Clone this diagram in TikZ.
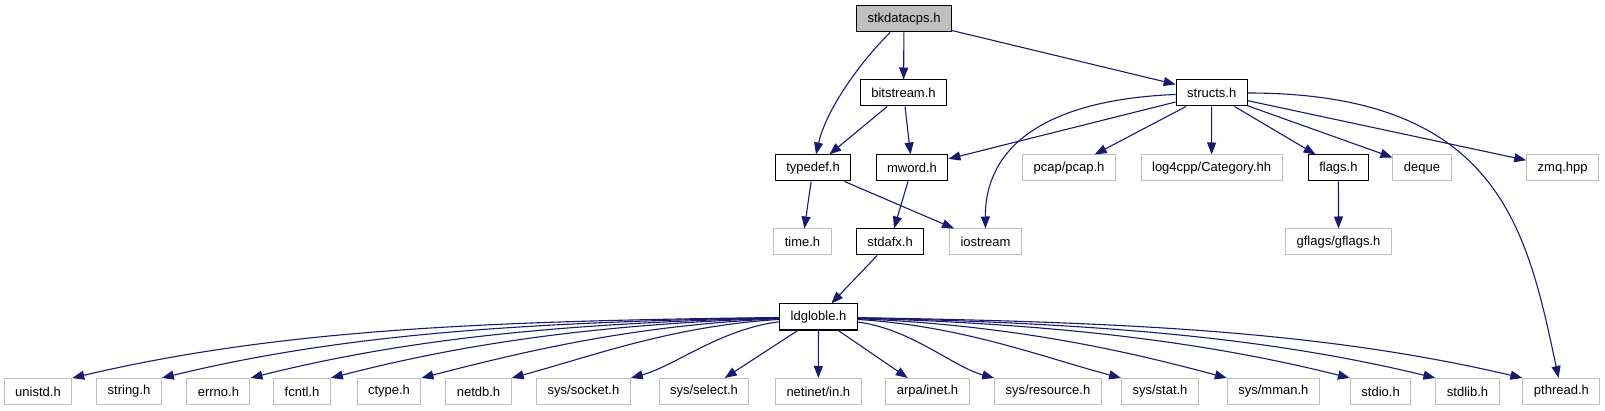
\documentclass[tikz,border=0pt]{standalone}
\usepackage{fontspec}
\setmainfont{Liberation Sans}
\usetikzlibrary{arrows.meta}
\definecolor{elkek}{HTML}{191970}
\definecolor{kszurke}{HTML}{BFBFBF}
\tikzset{
  fejlec/.style={draw=black,line width=1pt,fill=white,minimum height=26pt,inner xsep=11pt,inner ysep=0pt,
                 font=\fontsize{13}{15}\selectfont},
  rendszer/.style={fejlec,draw=kszurke},
  gyoker/.style={fejlec,fill=kszurke},
  fugg/.style={draw=elkek,line width=1.1pt,-{Triangle[length=12pt,width=9pt]}},
}
\begin{document}
\begin{tikzpicture}[x=1pt,y=-1pt]
  \useasboundingbox (0,0) rectangle (1605,411);
  % felso szintek
  \node[gyoker] (stk) at (904,19) {stkdatacps.h};
  \node[fejlec] (bit) at (903.5,93) {bitstream.h};
  \node[fejlec] (str) at (1211.7,93) {structs.h};
  \node[fejlec] (typ) at (813,168) {typedef.h};
  \node[fejlec] (mwd) at (912,168) {mword.h};
  \node[rendszer] (pcap) at (1069,168) {pcap/pcap.h};
  \node[rendszer] (log) at (1211.6,168) {log4cpp/Category.hh};
  \node[fejlec] (flg) at (1338.4,168) {flags.h};
  \node[rendszer] (deq) at (1422,168) {deque};
  \node[rendszer] (zmq) at (1562.6,168) {zmq.hpp};
  \node[rendszer] (tim) at (802.5,242) {time.h};
  \node[fejlec] (afx) at (890,242) {stdafx.h};
  \node[rendszer] (ios) at (985.5,242) {iostream};
  \node[rendszer] (gfl) at (1338.5,242) {gflags/gflags.h};
  \node[fejlec] (ldg) at (818.5,317) {ldgloble.h};
  % also sor
  \node[rendszer] (uni) at (38,391.5) {unistd.h};
  \node[rendszer] (sng) at (129,391.5) {string.h};
  \node[rendszer] (err) at (218.4,391.5) {errno.h};
  \node[rendszer] (fcn) at (302,391.5) {fcntl.h};
  \node[rendszer] (cty) at (389,391.5) {ctype.h};
  \node[rendszer] (ndb) at (478.5,391.5) {netdb.h};
  \node[rendszer] (soc) at (583.5,391.5) {sys/socket.h};
  \node[rendszer] (sel) at (704,391.5) {sys/select.h};
  \node[rendszer] (nin) at (818.3,391.5) {netinet/in.h};
  \node[rendszer] (arp) at (927.5,391.5) {arpa/inet.h};
  \node[rendszer] (res) at (1048,391.5) {sys/resource.h};
  \node[rendszer] (sta) at (1160,391.5) {sys/stat.h};
  \node[rendszer] (mma) at (1273.4,391.5) {sys/mman.h};
  \node[rendszer] (sio) at (1380.6,391.5) {stdio.h};
  \node[rendszer] (slb) at (1467.5,391.5) {stdlib.h};
  \node[rendszer] (pth) at (1561.4,391.5) {pthread.h};
  % fuggosegek
  \draw[fugg] (stk) .. controls (860,62) and (826,110) .. (typ);
  \draw[fugg] (stk) -- (bit); \draw[fugg] (stk) -- (str);
  \draw[fugg] (bit) -- (typ); \draw[fugg] (bit) -- (mwd);
  \draw[fugg] (str) -- (mwd);
  \draw[fugg] (str) .. controls (1040,100) and (985,150) .. (ios);
  \draw[fugg] (str) -- (pcap); \draw[fugg] (str) -- (log); \draw[fugg] (str) -- (flg);
  \draw[fugg] (str) -- (deq); \draw[fugg] (str) -- (zmq);
  \draw[fugg] (str) .. controls (1499,93) and (1527,229) .. (pth);
  \draw[fugg] (typ) -- (tim); \draw[fugg] (typ) -- (ios);
  \draw[fugg] (mwd) -- (afx); \draw[fugg] (afx) -- (ldg);
  \draw[fugg] (flg) -- (gfl);
  % ldgloble.h -> rendszerfejlecek
  \draw[fugg] (ldg) .. controls +(-321,4) and +(212,-50) .. (uni.north east);
  \draw[fugg] (ldg) .. controls +(-286,5) and +(185,-45) .. (sng.north east);
  \draw[fugg] (ldg) .. controls +(-250,6) and +(159,-40) .. (err.north east);
  \draw[fugg] (ldg) .. controls +(-218,7) and +(135,-35) .. (fcn.north east);
  \draw[fugg] (ldg) .. controls +(-182,8) and +(108,-28) .. (cty.north east);
  \draw[fugg] (ldg) .. controls +(-146,9) and +(81,-22) .. (ndb.north east);
  \draw[fugg] (ldg) .. controls +(-98,12) and +(44,-12) .. (soc.north east);
  \draw[fugg] (ldg) -- (sel); \draw[fugg] (ldg) -- (nin); \draw[fugg] (ldg) -- (arp);
  \draw[fugg] (ldg) .. controls +(93,12) and +(-41,-11) .. (res.north west);
  \draw[fugg] (ldg) .. controls +(144,9) and +(-79,-21) .. (sta.north west);
  \draw[fugg] (ldg) .. controls +(187,8) and +(-111,-30) .. (mma.north west);
  \draw[fugg] (ldg) .. controls +(236,7) and +(-148,-37) .. (sio.north west);
  \draw[fugg] (ldg) .. controls +(270,6) and +(-173,-42) .. (slb.north west);
  \draw[fugg] (ldg) .. controls +(305,5) and +(-200,-47) .. (pth.north west);
\end{tikzpicture}
\end{document}
